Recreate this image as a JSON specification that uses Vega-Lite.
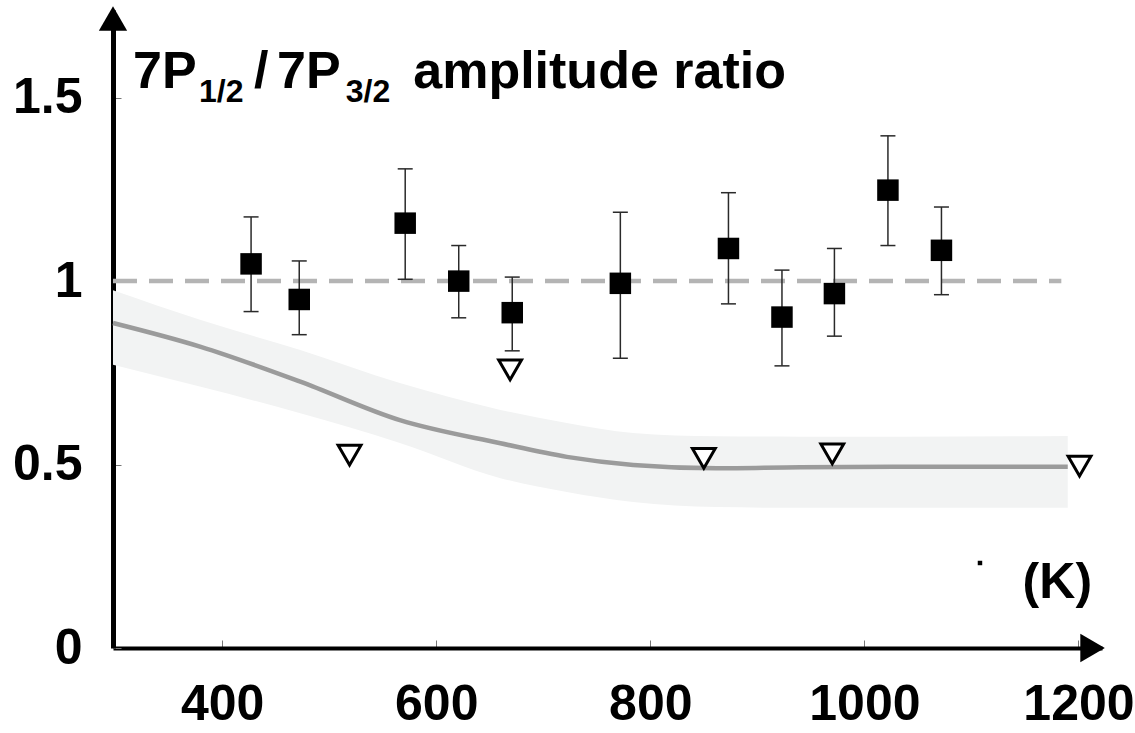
{
  "$schema": "https://vega.github.io/schema/vega-lite/v6.json",
  "width": 989,
  "height": 638,
  "autosize": {"type": "none"},
  "padding": {"left": 113, "top": 10, "right": 33, "bottom": 85},
  "background": "white",
  "config": {
    "view": {"stroke": null},
    "font": "Liberation Sans",
    "axis": {
      "title": null, "grid": false, "domainColor": "#000",
      "tickSize": -8, "tickColor": "#777", "tickWidth": 1,
      "labelFont": "Liberation Sans", "labelFontSize": 50, "labelFontWeight": "bold", "labelColor": "#000",
      "labelPadding": 39, "labelFlush": false, "labelOverlap": false, "zindex": 1
    },
    "axisX": {"domainWidth": 4, "tickCount": 5},
    "axisY": {"domainWidth": 5, "tickCount": 4}
  },
  "datasets": {
    "pts": [
      {"T": 427, "r": 1.047, "lo": 0.917, "hi": 1.175},
      {"T": 472, "r": 0.950, "lo": 0.854, "hi": 1.055},
      {"T": 571, "r": 1.158, "lo": 1.005, "hi": 1.306},
      {"T": 621, "r": 1.000, "lo": 0.900, "hi": 1.097},
      {"T": 671, "r": 0.914, "lo": 0.810, "hi": 1.011},
      {"T": 772, "r": 0.994, "lo": 0.790, "hi": 1.188},
      {"T": 873, "r": 1.089, "lo": 0.938, "hi": 1.241},
      {"T": 923, "r": 0.902, "lo": 0.769, "hi": 1.030},
      {"T": 972, "r": 0.966, "lo": 0.850, "hi": 1.089},
      {"T": 1022, "r": 1.248, "lo": 1.097, "hi": 1.396},
      {"T": 1072, "r": 1.084, "lo": 0.963, "hi": 1.202}
    ],
    "tri": [
      {"T": 519, "r": 0.526},
      {"T": 669, "r": 0.758},
      {"T": 850, "r": 0.517},
      {"T": 970, "r": 0.529},
      {"T": 1201, "r": 0.496}
    ],
    "band": [
      {"T": 298, "lo": 0.772, "mid": 0.886, "hi": 0.975},
      {"T": 380, "lo": 0.712, "mid": 0.821, "hi": 0.894},
      {"T": 473, "lo": 0.640, "mid": 0.726, "hi": 0.812},
      {"T": 566, "lo": 0.559, "mid": 0.621, "hi": 0.722},
      {"T": 660, "lo": 0.463, "mid": 0.558, "hi": 0.649},
      {"T": 722, "lo": 0.425, "mid": 0.521, "hi": 0.613},
      {"T": 784, "lo": 0.398, "mid": 0.499, "hi": 0.586},
      {"T": 862, "lo": 0.384, "mid": 0.490, "hi": 0.577},
      {"T": 940, "lo": 0.382, "mid": 0.493, "hi": 0.576},
      {"T": 1033, "lo": 0.382, "mid": 0.494, "hi": 0.576},
      {"T": 1190, "lo": 0.382, "mid": 0.494, "hi": 0.578}
    ],
    "ref": [
      {"T": 298, "r": 1.0},
      {"T": 1184, "r": 1.0}
    ],
    "one": [{"k": 1}]
  },
  "encoding": {
    "x": {
      "field": "T", "type": "quantitative",
      "scale": {"domain": [298, 1222], "nice": false, "zero": false},
      "axis": {"values": [400, 600, 800, 1000, 1200], "format": "d", "title": null}
    },
    "y": {
      "field": "r", "type": "quantitative",
      "scale": {"domain": [0, 1.739], "nice": false, "zero": false},
      "axis": {"values": [0, 0.5, 1, 1.5], "format": "~g", "title": null}
    }
  },
  "layer": [
    {
      "data": {"name": "band"},
      "mark": {"type": "area", "color": "#f2f3f3", "opacity": 1, "interpolate": "monotone"},
      "encoding": {
        "y": {"field": "lo", "type": "quantitative", "title": null},
        "y2": {"field": "hi"}
      }
    },
    {
      "data": {"name": "ref"},
      "mark": {"type": "line", "color": "#b4b4b4", "strokeWidth": 4.5, "strokeDash": [24, 12]}
    },
    {
      "data": {"name": "band"},
      "mark": {"type": "line", "color": "#9b9b9b", "strokeWidth": 4.5, "interpolate": "monotone"},
      "encoding": {
        "y": {"field": "mid", "type": "quantitative", "title": null}
      }
    },
    {
      "data": {"name": "pts"},
      "mark": {"type": "rule", "color": "#2a2a2a", "strokeWidth": 1.5},
      "encoding": {
        "y": {"field": "lo", "type": "quantitative", "title": null},
        "y2": {"field": "hi"}
      }
    },
    {
      "data": {"name": "pts"},
      "mark": {"type": "tick", "orient": "horizontal", "color": "#2a2a2a", "size": 15, "thickness": 1.5, "opacity": 1},
      "encoding": {
        "y": {"field": "lo", "type": "quantitative", "title": null}
      }
    },
    {
      "data": {"name": "pts"},
      "mark": {"type": "tick", "orient": "horizontal", "color": "#2a2a2a", "size": 15, "thickness": 1.5, "opacity": 1},
      "encoding": {
        "y": {"field": "hi", "type": "quantitative", "title": null}
      }
    },
    {
      "data": {"name": "pts"},
      "mark": {"type": "point", "shape": "square", "filled": true, "color": "#000", "size": 462, "opacity": 1}
    },
    {
      "data": {"name": "tri"},
      "mark": {"type": "point", "shape": "triangle-down", "filled": true, "fill": "#fff", "stroke": "#000", "strokeWidth": 3, "size": 520, "opacity": 1}
    },
    {
      "data": {"name": "one"},
      "layer": [
        {"mark": {"type": "point", "shape": "triangle-up", "filled": true, "color": "#000", "size": 800, "opacity": 1,
          "x": {"expr": "scale('x', 298)"}, "y": {"expr": "scale('y', 1.7157)"}}},
        {"mark": {"type": "point", "shape": "triangle-right", "filled": true, "color": "#000", "size": 800, "opacity": 1,
          "x": {"expr": "scale('x', 1213.2)"}, "y": {"expr": "scale('y', 0)"}}},
        {"mark": {"type": "point", "shape": "square", "filled": true, "color": "#000", "size": 20, "opacity": 1,
          "x": {"expr": "scale('x', 1108)"}, "y": {"expr": "scale('y', 0.2317)"}}},
        {"mark": {"type": "text", "text": "7P", "fontSize": 52, "fontWeight": "bold", "align": "left", "baseline": "alphabetic", "color": "#000",
          "x": {"expr": "scale('x', 316.7)"}, "y": {"expr": "scale('y', 1.5263)"}}},
        {"mark": {"type": "text", "text": "1/2", "fontSize": 32, "fontWeight": "bold", "align": "left", "baseline": "alphabetic", "color": "#000",
          "x": {"expr": "scale('x', 378.4)"}, "y": {"expr": "scale('y', 1.4881)"}}},
        {"mark": {"type": "text", "text": "/", "fontSize": 52, "fontWeight": "bold", "align": "left", "baseline": "alphabetic", "color": "#000",
          "x": {"expr": "scale('x', 429.7)"}, "y": {"expr": "scale('y', 1.5263)"}}},
        {"mark": {"type": "text", "text": "7P", "fontSize": 52, "fontWeight": "bold", "align": "left", "baseline": "alphabetic", "color": "#000",
          "x": {"expr": "scale('x', 451.2)"}, "y": {"expr": "scale('y', 1.5263)"}}},
        {"mark": {"type": "text", "text": "3/2", "fontSize": 32, "fontWeight": "bold", "align": "left", "baseline": "alphabetic", "color": "#000",
          "x": {"expr": "scale('x', 515.5)"}, "y": {"expr": "scale('y', 1.4881)"}}},
        {"mark": {"type": "text", "text": "amplitude ratio", "fontSize": 52, "fontWeight": "bold", "align": "left", "baseline": "alphabetic", "color": "#000",
          "x": {"expr": "scale('x', 578.5)"}, "y": {"expr": "scale('y', 1.5263)"}}},
        {"mark": {"type": "text", "text": "(K)", "fontSize": 50, "fontWeight": "bold", "align": "right", "baseline": "alphabetic", "color": "#000",
          "x": {"expr": "scale('x', 1212.7)"}, "y": {"expr": "scale('y', 0.136)"}}}
      ],
      "encoding": {"x": null, "y": null}
    }
  ]
}
